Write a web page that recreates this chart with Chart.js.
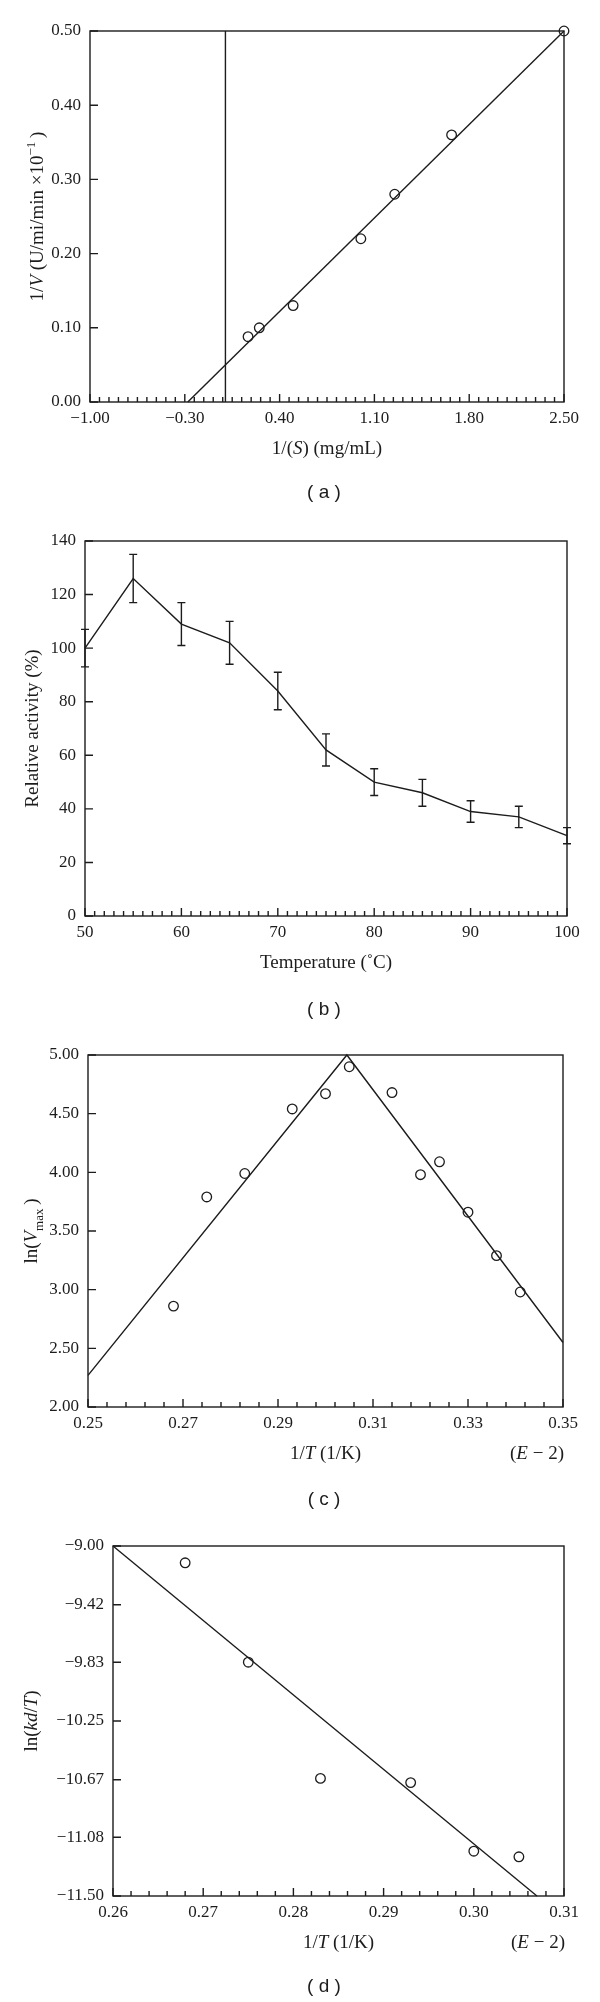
<!DOCTYPE html>
<html lang="en">
<head>
  <meta charset="UTF-8" />
  <title>Kinetic and thermal plots (a)–(d)</title>
  <script src="https://cdn.jsdelivr.net/npm/chart.js@4.4.0/dist/chart.umd.min.js"></script>
  <style>
    body { margin: 0; background: #fff; }
    #page { position: relative; width: 600px; height: 2002px; background: #fff; }
    canvas { position: absolute; left: 0; }
  </style>
</head>
<body>
  <div id="page">
    <canvas id="chartA" width="600" height="510" style="top:0"></canvas>
    <canvas id="chartB" width="600" height="510" style="top:510px"></canvas>
    <canvas id="chartC" width="600" height="495" style="top:1020px"></canvas>
    <canvas id="chartD" width="600" height="487" style="top:1515px"></canvas>
  </div>

  <script>
    /* ---------- (a) Lineweaver-Burk ---------- */
    var invS   = [0.167, 0.25, 0.50, 1.00, 1.25, 1.67, 2.50];
    var invV   = [0.088, 0.10, 0.13, 0.22, 0.28, 0.36, 0.50];
    var fitAx  = [-0.278, 2.50];
    var fitAy  = [0.00, 0.50];
    var zeroAx = [0, 0];
    var zeroAy = [0.00, 0.50];
    var xTicksA = [-1.00, -0.30, 0.40, 1.10, 1.80, 2.50];
    var yTicksA = [0.00, 0.10, 0.20, 0.30, 0.40, 0.50];

    /* ---------- (b) temperature profile ---------- */
    var tempB = [50, 55, 60, 65, 70, 75, 80, 85, 90, 95, 100];
    var actB  = [100, 126, 109, 102, 84, 62, 50, 46, 39, 37, 30];
    var errB  = [7, 9, 8, 8, 7, 6, 5, 5, 4, 4, 3];
    var xTicksB = [50, 60, 70, 80, 90, 100];
    var yTicksB = [0, 20, 40, 60, 80, 100, 120, 140];

    /* ---------- (c) ln(Vmax) vs 1/T ---------- */
    var invTc  = [0.268, 0.275, 0.283, 0.293, 0.300, 0.305, 0.314, 0.320, 0.324, 0.330, 0.336, 0.341];
    var lnVmax = [2.86, 3.79, 3.99, 4.54, 4.67, 4.90, 4.68, 3.98, 4.09, 3.66, 3.29, 2.98];
    var fitCx  = [0.25, 0.3045, 0.35];
    var fitCy  = [2.27, 5.00, 2.55];
    var xTicksC = [0.25, 0.27, 0.29, 0.31, 0.33, 0.35];
    var yTicksC = [2.00, 2.50, 3.00, 3.50, 4.00, 4.50, 5.00];

    /* ---------- (d) ln(kd/T) vs 1/T ---------- */
    var invTd = [0.268, 0.275, 0.283, 0.293, 0.300, 0.305];
    var lnKdT = [-9.12, -9.83, -10.66, -10.69, -11.18, -11.22];
    var fitDx = [0.26, 0.307];
    var fitDy = [-9.00, -11.50];
    var xTicksD = [0.26, 0.27, 0.28, 0.29, 0.30, 0.31];
    var yTicksD = [-9.00, -9.42, -9.83, -10.25, -10.67, -11.08, -11.50];

    var INK   = "#1c1c1c";
    var SERIF = '"Liberation Serif", "Times New Roman", serif';
    var TITLE = 19;
    Chart.defaults.font.family = SERIF;
    Chart.defaults.color = INK;

    function xy(xs, ys) {
      return xs.map(function (x, i) { return { x: x, y: ys[i] }; });
    }

    function fmt(v, dp) {
      return v.toFixed(dp).replace("-", "\u2212");
    }

    /* texto con cursiva / subíndice / superíndice */
    function rich(ctx, parts, x, y, size, align, vertical) {
      ctx.save();
      ctx.translate(x, y);
      if (vertical) ctx.rotate(-Math.PI / 2);
      var runs = parts.map(function (p) {
        var small = p[1] === "sub" || p[1] === "sup";
        var font = (p[1] === "i" ? "italic " : "") +
                   (small ? Math.round(size * 0.68) : size) + "px " + SERIF;
        ctx.font = font;
        return { t: p[0], s: p[1], font: font, w: ctx.measureText(p[0]).width };
      });
      var total = runs.reduce(function (a, r) { return a + r.w; }, 0);
      var cx = align === "right" ? -total : (align === "left" ? 0 : -total / 2);
      ctx.fillStyle = INK;
      ctx.textAlign = "left";
      ctx.textBaseline = "alphabetic";
      runs.forEach(function (r) {
        var dy = r.s === "sub" ? size * 0.28 : (r.s === "sup" ? -size * 0.42 : 0);
        ctx.font = r.font;
        ctx.fillText(r.t, cx, size * 0.33 + dy);
        cx += r.w;
      });
      ctx.restore();
    }

    /* marco, marcas interiores, barras de error y rótulos */
    function figure(o) {
      return {
        id: "figure",
        afterDatasetsDraw: function (chart) {
          var ctx = chart.ctx, a = chart.chartArea;
          var xs = chart.scales.x, ys = chart.scales.y;
          ctx.save();
          ctx.strokeStyle = INK;
          ctx.lineWidth = 1.4;
          ctx.strokeRect(a.left, a.top, a.right - a.left, a.bottom - a.top);
          ctx.beginPath();
          var n = Math.round((xs.max - xs.min) / o.minor);
          for (var k = 0; k <= n; k++) {
            var px = xs.getPixelForValue(xs.min + k * o.minor);
            ctx.moveTo(px, a.bottom);
            ctx.lineTo(px, a.bottom - (k % o.every === 0 ? 8 : 5));
          }
          ys.ticks.forEach(function (t) {
            var py = ys.getPixelForValue(t.value);
            ctx.moveTo(a.left, py);
            ctx.lineTo(a.left + 8, py);
          });
          if (o.err) {
            o.err.x.forEach(function (xv, i) {
              var bx = xs.getPixelForValue(xv);
              var top = ys.getPixelForValue(o.err.y[i] + o.err.e[i]);
              var bot = ys.getPixelForValue(o.err.y[i] - o.err.e[i]);
              ctx.moveTo(bx, top); ctx.lineTo(bx, bot);
              ctx.moveTo(bx - 4, top); ctx.lineTo(bx + 4, top);
              ctx.moveTo(bx - 4, bot); ctx.lineTo(bx + 4, bot);
            });
          }
          ctx.stroke();
          ctx.restore();

          var titleY = a.bottom + 46;
          rich(ctx, o.xTitle, (a.left + a.right) / 2, titleY, TITLE, "center", false);
          if (o.note) rich(ctx, o.note, a.right + 1, titleY, TITLE, "right", false);
          rich(ctx, o.yTitle, o.yTitleX, (a.top + a.bottom) / 2, TITLE, "center", true);

          ctx.save();
          ctx.fillStyle = INK;
          ctx.font = '19px "Liberation Sans", Arial, sans-serif';
          ctx.textAlign = "center";
          ctx.textBaseline = "middle";
          ctx.fillText(o.caption, 324, o.captionY);
          ctx.restore();
        }
      };
    }

    function axis(min, max, ticks, dp, pad, dir, size) {
      return {
        type: "linear",
        min: min,
        max: max,
        grid: { display: false, drawTicks: false },
        border: { display: false },
        afterBuildTicks: function (s) {
          s.ticks = ticks.map(function (v) { return { value: v }; });
        },
        afterFit: function (s) {
          if (dir === "x") s.height = size; else s.width = size;
        },
        ticks: {
          padding: pad,
          autoSkip: false,
          maxRotation: 0,
          color: INK,
          font: { family: SERIF, size: 17 },
          callback: function (v) { return fmt(v, dp); }
        }
      };
    }

    var ring = {
      showLine: false, pointRadius: 4.8, pointBorderWidth: 1.3,
      pointBorderColor: INK, pointBackgroundColor: "rgba(0,0,0,0)", clip: false
    };
    var stroke = {
      showLine: true, pointRadius: 0, borderColor: INK, borderWidth: 1.4,
      tension: 0, clip: false
    };

    function makeChart(id, box, x, y, datasets, fig) {
      return new Chart(document.getElementById(id), {
        type: "scatter",
        data: { datasets: datasets },
        options: {
          responsive: false,
          animation: false,
          devicePixelRatio: 1,
          events: [],
          layout: { padding: { left: 0, top: box.top, right: 600 - box.right, bottom: 0 } },
          plugins: { legend: { display: false }, tooltip: { enabled: false } },
          scales: {
            x: axis(x.min, x.max, x.ticks, x.dp, 6, "x", box.xHeight),
            y: axis(y.min, y.max, y.ticks, y.dp, 9, "y", box.left)
          }
        },
        plugins: [figure(fig)]
      });
    }

    function withStyle(style, data) {
      return Object.assign({ data: data }, style);
    }

    /* (a) */
    makeChart("chartA",
      { left: 90, right: 564, top: 31, xHeight: 108 },
      { min: -1.0, max: 2.5, ticks: xTicksA, dp: 2 },
      { min: 0, max: 0.5, ticks: yTicksA, dp: 2 },
      [
        withStyle(stroke, xy(fitAx, fitAy)),
        withStyle(stroke, xy(zeroAx, zeroAy)),
        withStyle(ring, xy(invS, invV))
      ],
      {
        minor: 0.07, every: 10,
        xTitle: [["1/(", ""], ["S", "i"], [") (mg/mL)", ""]],
        yTitle: [["1/", ""], ["V", "i"], [" (U/mi/min \u00d710", ""], ["\u22121", "sup"], ["\u2009)", ""]],
        yTitleX: 37,
        caption: "( a )", captionY: 493
      });

    /* (b) */
    makeChart("chartB",
      { left: 85, right: 567, top: 31, xHeight: 104 },
      { min: 50, max: 100, ticks: xTicksB, dp: 0 },
      { min: 0, max: 140, ticks: yTicksB, dp: 0 },
      [ withStyle(stroke, xy(tempB, actB)) ],
      {
        minor: 1, every: 10,
        err: { x: tempB, y: actB, e: errB },
        xTitle: [["Temperature (\u02daC)", ""]],
        yTitle: [["Relative activity (%)", ""]],
        yTitleX: 32,
        caption: "( b )", captionY: 500
      });

    /* (c) */
    makeChart("chartC",
      { left: 88, right: 563, top: 35, xHeight: 108 },
      { min: 0.25, max: 0.35, ticks: xTicksC, dp: 2 },
      { min: 2, max: 5, ticks: yTicksC, dp: 2 },
      [
        withStyle(stroke, xy(fitCx, fitCy)),
        withStyle(ring, xy(invTc, lnVmax))
      ],
      {
        minor: 0.004, every: 5,
        xTitle: [["1/", ""], ["T", "i"], [" (1/K)", ""]],
        note: [["(", ""], ["E", "i"], [" \u2212 2)", ""]],
        yTitle: [["ln(", ""], ["V", "i"], ["max", "sub"], ["\u2009)", ""]],
        yTitleX: 31,
        caption: "( c )", captionY: 480
      });

    /* (d) */
    makeChart("chartD",
      { left: 113, right: 564, top: 31, xHeight: 106 },
      { min: 0.26, max: 0.31, ticks: xTicksD, dp: 2 },
      { min: -11.5, max: -9.0, ticks: yTicksD, dp: 2 },
      [
        withStyle(stroke, xy(fitDx, fitDy)),
        withStyle(ring, xy(invTd, lnKdT))
      ],
      {
        minor: 0.002, every: 5,
        xTitle: [["1/", ""], ["T", "i"], [" (1/K)", ""]],
        note: [["(", ""], ["E", "i"], [" \u2212 2)", ""]],
        yTitle: [["ln(", ""], ["kd", "i"], ["/", ""], ["T", "i"], [")", ""]],
        yTitleX: 31,
        caption: "( d )", captionY: 472
      });
  </script>
</body>
</html>
